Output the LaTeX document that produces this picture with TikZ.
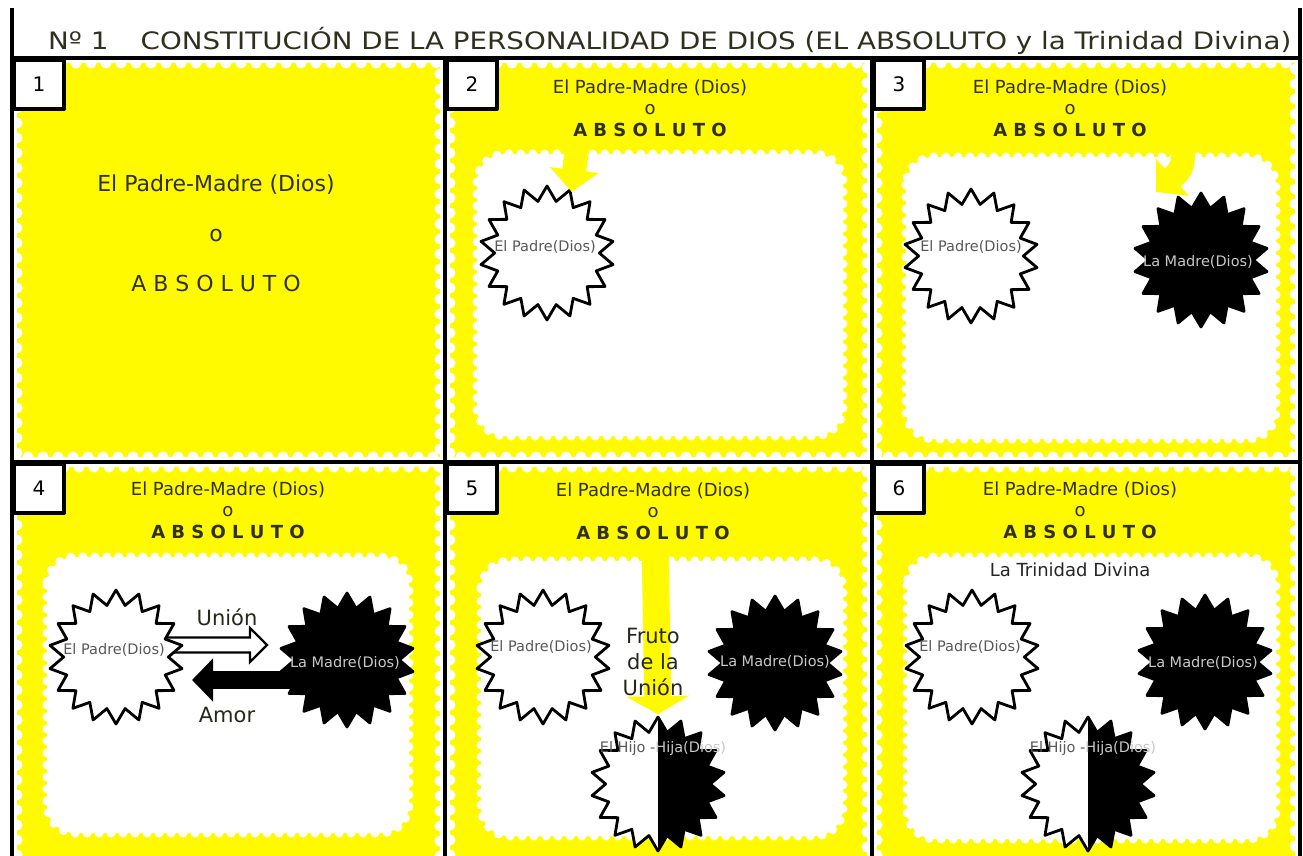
\documentclass[tikz,border=0pt]{standalone}
\usepackage{fontspec}
\setmainfont{DejaVu Sans}
\usepackage{graphicx}
\usetikzlibrary{shapes.geometric, arrows.meta, positioning, calc}
\definecolor{myyellow}{RGB}{255,250,0}
\definecolor{myink}{RGB}{48,48,32}
\definecolor{mygray}{RGB}{88,88,88}
\definecolor{mylight}{RGB}{200,200,200}
\newcommand{\absoluto}{\textbf{A B S O L U T O}}
\tikzset{
         myframe/.style={line width=4pt, line cap=rect},
         mynum/.style={draw, line width=4pt, fill=white, anchor=north west, minimum width=50pt, minimum height=49pt, inner sep=0pt, font=\fontsize{20}{24}\selectfont},
         myyell/.style={fill=myyellow},
         myedge/.style={draw=white, line width=11pt, line cap=round, dash pattern=on 0pt off 15pt},
         mywhite/.style={myedge, fill=white, line width=9pt, dash pattern=on 0pt off 12pt, rounded corners=28pt},
         mysun/.style={star, star points=18, star point ratio=1.28, minimum size=134pt, inner sep=0pt, draw, line width=2.8pt, fill=white},
         mymadre/.style={mysun, fill=black},
         myhijo/.style={mysun, path picture={\fill[black] (path picture bounding box.north) rectangle (path picture bounding box.south east);}},
         myhead/.style={align=center, text=myink, font=\fontsize{18}{21.5}\selectfont},
         mylabel/.style={text=mygray, font=\fontsize{14.5}{16}\selectfont},
         mylabelw/.style={mylabel, text=mylight},
         myword/.style={text=myink!80!black, font=\fontsize{21}{26}\selectfont, align=center},
         mydrop/.style={draw=myyellow, line width=24pt, -{Triangle[width=48pt, length=22pt]}},
         myunion/.style={draw=black, fill=white, line width=2.2pt, line join=miter},
         myamor/.style={draw=black, line width=18pt, -{Triangle[width=42pt, length=21pt]}}
      }

\begin{document}
\begin{tikzpicture}[x=1pt, y=-1pt, line join=round]
  \useasboundingbox (0,0) rectangle (1303,856);

  \node[anchor=base west, inner sep=0pt, text=myink, font=\fontsize{24}{26}\selectfont] (title) at (48,50)
       {\resizebox{1243pt}{\height}{Nº 1\hspace{28pt}CONSTITUCIÓN DE LA PERSONALIDAD DE DIOS (EL ABSOLUTO y la Trinidad Divina)}};

  \foreach \xa/\xb in {17/440, 450/867, 877/1295}{
    \fill[myyell] (\xa,63) rectangle (\xb,457);
    \draw[myedge] (\xa,63) rectangle (\xb,457);
    \fill[myyell] (\xa,467) rectangle (\xb,870);
    \draw[myedge] (\xa,870) -- (\xa,467) -- (\xb,467) -- (\xb,870);
  }

  \draw[mywhite] (477,154) rectangle (843,436);
  \draw[mywhite] (906,157) rectangle (1276,439);
  \draw[mywhite] (47,557) rectangle (409,833);
  \draw[mywhite] (481,561) rectangle (843,836);
  \draw[mywhite] (907,557) rectangle (1276,839);

  \node[myhead, font=\fontsize{22}{50}\selectfont] (head1) at (216,233) {El Padre-Madre (Dios)\\o\\A B S O L U T O};
  \node[myhead] (head2) at (650,108) {El Padre-Madre (Dios)\\o\\\absoluto};
  \node[myhead] (head3) at (1070,108) {El Padre-Madre (Dios)\\o\\\absoluto};
  \node[myhead] (head4) at (228,510) {El Padre-Madre (Dios)\\o\\\absoluto};
  \node[myhead] (head5) at (653,511) {El Padre-Madre (Dios)\\o\\\absoluto};
  \node[myhead] (head6) at (1080,510) {El Padre-Madre (Dios)\\o\\\absoluto};

  \node[mysun] (padre2) at (547,253) {};
  \coordinate (drop2) at (578,140);
  \draw[mydrop] (drop2) -- (padre2.68);
  \node[mylabel] (padre2t) at (545,247) {El Padre(Dios)};

  \node[mysun] (padre3) at (971,256) {};
  \node[mymadre] (madre3) at (1201,260) {};
  \coordinate (drop3) at (1183,140);
  \coordinate (tip3) at (1156,192);
  \draw[mydrop] (drop3) .. controls (1183,168) .. (tip3);
  \node[mylabel] (padre3t) at (971,247) {El Padre(Dios)};
  \node[mylabelw] (madre3t) at (1198,262) {La Madre(Dios)};

  \coordinate (p4) at (116,657);
  \coordinate (m4) at (347,660);
  \filldraw[myunion] (p4) ++(0,-19.5) -- ++(134,0) -- ++(0,-9.5) -- ++(17,17) -- ++(-17,17) -- ++(0,-9.5) -- ++(-134,0) -- cycle;
  \draw[myamor] ($(m4)+(0,20)$) -- ++(-155,0);
  \node[mysun] (padre4) at (p4) {};
  \node[mymadre] (madre4) at (m4) {};
  \node[mylabel] (padre4t) at (114,650) {El Padre(Dios)};
  \node[mylabelw] (madre4t) at (345,663) {La Madre(Dios)};
  \node[myword] (union4) at (227,617) {Unión};
  \node[myword] (amor4) at (227,715) {Amor};

  \node[mysun] (padre5) at (543,657) {};
  \node[mymadre] (madre5) at (775,663) {};
  \node[myhijo] (hijo5) at (658,784) {};
  \coordinate (drop5) at (655,540);
  \draw[mydrop, line width=27pt, -{Triangle[width=62pt, length=18pt]}] (drop5) -- (hijo5.north);
  \node[mylabel] (padre5t) at (541,647) {El Padre(Dios)};
  \node[mylabelw] (madre5t) at (775,662) {La Madre(Dios)};
  \node[mylabel] (hijo5t) at (663,748) {El Hijo -\textcolor{mylight}{Hija(Dios)}};
  \node[myword] (fruto5) at (653,662) {Fruto\\de la\\Unión};

  \node[myhead, text=black!85] (trini6) at (1070,570) {La Trinidad Divina};
  \node[mysun] (padre6) at (972,657) {};
  \node[mymadre] (madre6) at (1205,662) {};
  \node[myhijo] (hijo6) at (1088,784) {};
  \node[mylabel] (padre6t) at (970,647) {El Padre(Dios)};
  \node[mylabelw] (madre6t) at (1203,663) {La Madre(Dios)};
  \node[mylabel] (hijo6t) at (1093,748) {El Hijo -\textcolor{mylight}{Hija(Dios)}};

  \draw[myframe] (12,10) -- (12,870) (1300,10) -- (1300,870) (445,58) -- (445,870) (872,58) -- (872,870)
                 (12,58) -- (1300,58) (12,462) -- (1300,462);
  \foreach \n/\x/\y in {1/12/58, 2/445/58, 3/872/58, 4/12/462, 5/445/462, 6/872/462}
    \node[mynum] (num\n) at (\x,\y) {\n};
\end{tikzpicture}
\end{document}
